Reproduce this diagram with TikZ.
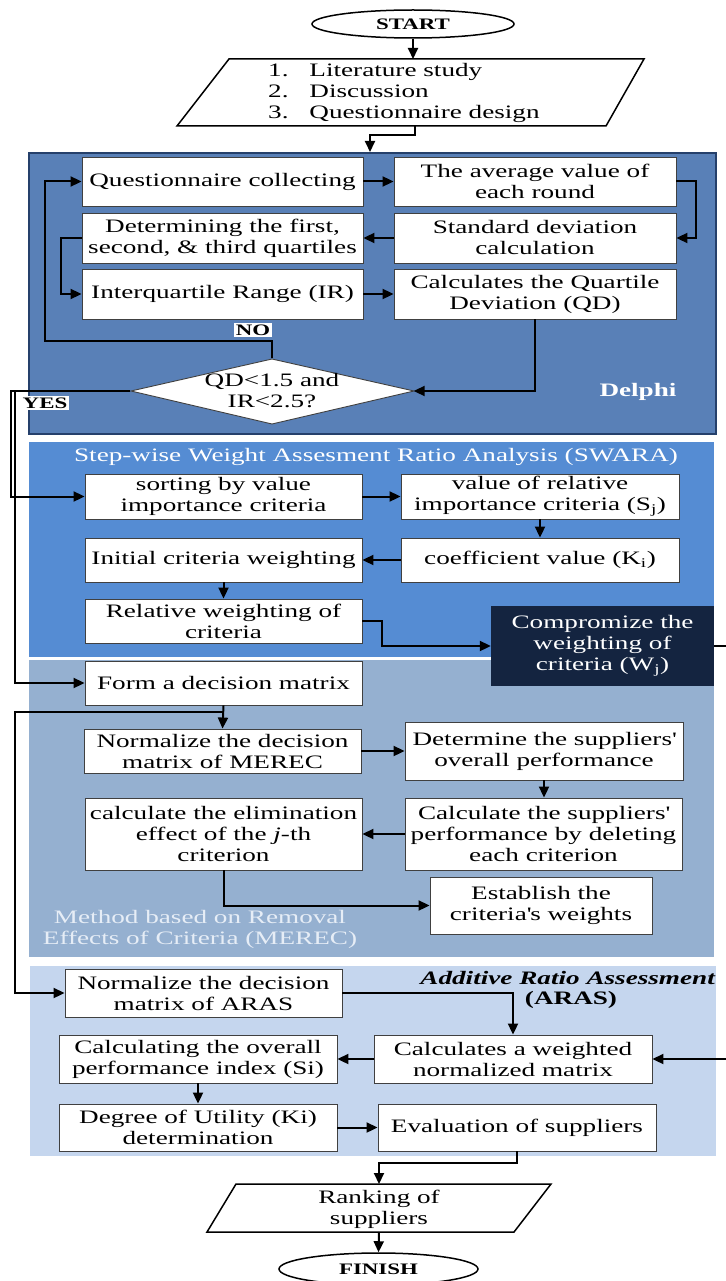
\documentclass[tikz,border=0pt]{standalone}
\usepackage{fontspec}
\setmainfont{Liberation Serif}[FakeStretch=1.43]
\usetikzlibrary{arrows.meta,shapes.geometric}
\definecolor{delphiC}{RGB}{89,128,183}
\definecolor{delphiB}{RGB}{37,64,107}
\definecolor{swaraC}{RGB}{85,140,211}
\definecolor{compC}{RGB}{20,36,64}
\definecolor{merecC}{RGB}{149,176,208}
\definecolor{merecT}{RGB}{230,237,246}
\definecolor{arasC}{RGB}{197,214,238}
\begin{document}
\begin{tikzpicture}[x=1pt,y=-1pt,
  every node/.style={font=\fontsize{19}{21}\selectfont},
  bx/.style={draw=black!75, fill=white, line width=0.9pt, align=center, inner sep=0pt},
  sect/.style={inner sep=0pt, anchor=north west, draw=none},
  arr/.style={line width=2pt, -{Triangle[length=11pt,width=10pt]}},
  term/.style={ellipse, draw=black, line width=1.5pt, fill=white, inner sep=0pt, font=\fontsize{16}{18}\selectfont\bfseries},
  lab/.style={fill=white, inner sep=1.5pt, font=\fontsize{16}{18}\selectfont\bfseries}
]
\useasboundingbox (0,0) rectangle (725,1281);

% section boxes
\node[sect, fill=delphiC, draw=delphiB, line width=1.6pt, minimum width=687pt, minimum height=281pt] (delphi) at (28,152) {};
\node[sect, fill=swaraC, minimum width=685pt, minimum height=215pt] (swara) at (29,442) {};
\node[sect, fill=merecC, minimum width=685pt, minimum height=297pt] (merec) at (29,660) {};
\node[sect, fill=arasC, minimum width=686pt, minimum height=190pt] (aras) at (30,966) {};

% start and input
\node[term, minimum width=202pt, minimum height=28pt] (start) at (413,24) {START};
\draw[fill=white, line width=1.5pt] (229,59) -- (644,59) -- (606,126) -- (177,126) -- cycle;
\node[anchor=west, align=left, inner sep=0pt] (inp) at (268,92.5) {1.\hspace{1.1em}Literature study\\2.\hspace{1.1em}Discussion\\3.\hspace{1.1em}Questionnaire design};
\coordinate (inpT) at (413,59);
\coordinate (inpB) at (415,126);
\coordinate (dT) at (370,152);

% Delphi
\node[bx, minimum width=281pt, minimum height=49pt] (qc) at (222.5,181.5) {Questionnaire collecting};
\node[bx, minimum width=282pt, minimum height=49pt] (avg) at (535,181.5) {The average value of\\each round};
\node[bx, minimum width=281pt, minimum height=50pt] (det) at (222.5,238) {Determining the first,\\second, \& third quartiles};
\node[bx, minimum width=282pt, minimum height=50pt] (std) at (535,238) {Standard deviation\\calculation};
\node[bx, minimum width=281pt, minimum height=50pt] (ir) at (222.5,294) {Interquartile Range (IR)};
\node[bx, minimum width=282pt, minimum height=50pt] (qd) at (535,294) {Calculates the Quartile\\Deviation (QD)};
\draw[fill=white, line width=0.9pt, draw=black!75] (131,391) -- (272,359) -- (414,391) -- (272,424) -- cycle;
\node[align=center, inner sep=0pt, minimum width=283pt, minimum height=65pt] (dia) at (272,391) {QD<1.5 and\\IR<2.5?};
\node[font=\fontsize{19}{21}\selectfont\bfseries, text=white] (dlab) at (638,392) {Delphi};
\coordinate (noC) at (45,341);
\coordinate (yesA) at (11,391);
\coordinate (yesB) at (15,391);

% SWARA
\node[text=white] (stitle) at (376,457) {Step-wise Weight Assesment Ratio Analysis (SWARA)};
\node[bx, minimum width=277pt, minimum height=45pt] (sort) at (223.5,496.5) {sorting by value\\importance criteria};
\node[bx, minimum width=278pt, minimum height=45pt] (val) at (540,496.5) {value of relative\\importance criteria (S\textsubscript{j})};
\node[bx, minimum width=277pt, minimum height=44pt] (init) at (223.5,560) {Initial criteria weighting};
\node[bx, minimum width=278pt, minimum height=44pt] (coef) at (540,560) {coefficient value (K\textsubscript{i})};
\node[bx, minimum width=277pt, minimum height=44pt] (rel) at (223.5,621) {Relative weighting of\\criteria};
\node[fill=compC, text=white, align=center, inner sep=0pt, minimum width=223pt, minimum height=80pt] (comp) at (602.5,646) {Compromize the\\weighting of\\criteria (W\textsubscript{j})};
\coordinate (rE) at (732,646);

% MEREC
\node[bx, minimum width=277pt, minimum height=44pt] (form) at (223.5,683) {Form a decision matrix};
\node[bx, minimum width=277pt, minimum height=44pt] (nmer) at (222.5,751) {Normalize the decision\\matrix of MEREC};
\node[bx, minimum width=278pt, minimum height=58pt] (detp) at (544,751) {Determine the suppliers\textquotesingle\\overall performance};
\node[bx, minimum width=277pt, minimum height=72pt] (elim) at (223.5,834) {calculate the elimination\\effect of the \textit{j}-th\\criterion};
\node[bx, minimum width=277pt, minimum height=72pt] (calc) at (543.5,834) {Calculate the suppliers\textquotesingle\\performance by deleting\\each criterion};
\node[bx, minimum width=222pt, minimum height=57pt] (est) at (541,905.5) {Establish the\\criteria\textquotesingle s weights};
\node[text=merecT, align=center] (mtitle) at (200,929) {Method based on Removal\\Effects of Criteria (MEREC)};
\coordinate (fb) at (223.5,712);
\coordinate (mB) at (15,712);

% ARAS
\node[bx, minimum width=277pt, minimum height=48pt] (nara) at (203.5,993) {Normalize the decision\\matrix of ARAS};
\node[anchor=east, inner sep=0pt, font=\fontsize{19}{21}\selectfont\bfseries\itshape] (atitle) at (715,978) {Additive Ratio Assessment};
\node[inner sep=0pt, font=\fontsize{19}{21}\selectfont\bfseries] (atitle2) at (571,1000) {(ARAS)};
\node[bx, minimum width=278pt, minimum height=48pt] (cwn) at (513,1059) {Calculates a weighted\\normalized matrix};
\node[bx, minimum width=278pt, minimum height=48pt] (cop) at (198,1059) {Calculating the overall\\performance index (Si)};
\node[bx, minimum width=278pt, minimum height=47pt] (deg) at (198,1127.5) {Degree of Utility (Ki)\\determination};
\node[bx, minimum width=278pt, minimum height=47pt] (eval) at (517,1127.5) {Evaluation of suppliers};

% output
\draw[fill=white, line width=1.5pt] (236,1184) -- (551,1184) -- (514,1232) -- (207,1232) -- cycle;
\node[align=center, inner sep=0pt] (rank) at (379,1209) {Ranking of\\suppliers};
\coordinate (rT) at (379,1184);
\coordinate (rB) at (379,1232);
\node[term, minimum width=199pt, minimum height=32pt] (finish) at (378.5,1269) {FINISH};

% connectors
\draw[arr] (start.south) -- (inpT);
\draw[arr] (inpB) -- ++(0,9) -| (dT);
\draw[arr] (qc.east) -- (avg.west);
\draw[arr] (avg.east) -- ++(20,0) |- (std.east);
\draw[arr] (std.west) -- (det.east);
\draw[arr] (det.west) -- ++(-21,0) |- (ir.west);
\draw[arr] (ir.east) -- (qd.west);
\draw[arr] (qd.south) |- (dia.east);
\draw[arr] (dia.north) |- (noC) |- (qc.west);
\draw[arr] (dia.west) -- (yesA) |- (sort.west);
\draw[arr] (dia.west) -- (yesB) |- (form.west);
\draw[arr] (sort.east) -- (val.west);
\draw[arr] (val.south) -- (coef.north);
\draw[arr] (coef.west) -- (init.east);
\draw[arr] (init.south) -- (rel.north);
\draw[arr] (rel.east) -- ++(20,0) |- (comp.west);
\draw[arr] (comp.east) -- (rE) |- (cwn.east);
\draw[arr] (form.south) -- (nmer.north);
\draw[arr] (fb) -- (mB) |- (nara.west);
\draw[arr] (nmer.east) -- (nmer.east -| detp.west);
\draw[arr] (detp.south) -- (calc.north -| detp.south);
\draw[arr] (calc.west) -- (elim.east);
\draw[arr] (elim.south) |- (est.west);
\draw[arr] (nara.east) -| (cwn.north);
\draw[arr] (cwn.west) -- (cop.east);
\draw[arr] (cop.south) -- (deg.north);
\draw[arr] (deg.east) -- (eval.west);
\draw[arr] (eval.south) -- ++(0,12) -| (rT);
\draw[arr] (rB) -- (finish.north);

% labels
\node[lab] (no) at (253,330) {NO};
\node[lab] (yes) at (45,403) {YES};
\end{tikzpicture}
\end{document}
